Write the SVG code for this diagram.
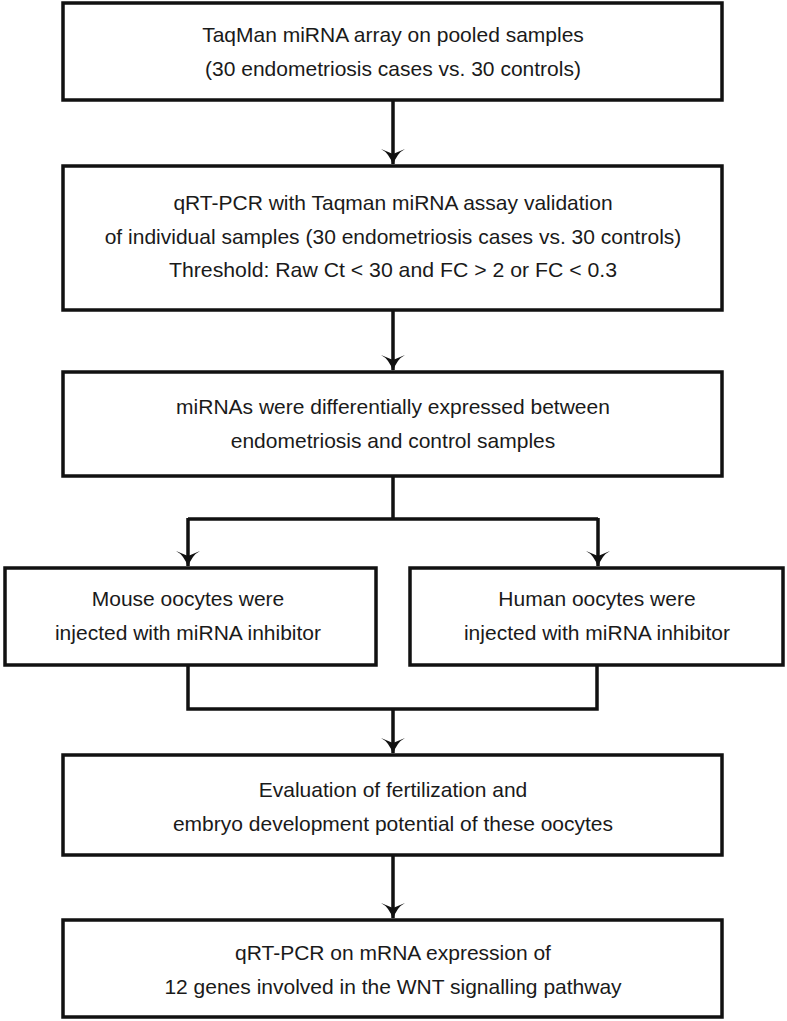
<svg xmlns="http://www.w3.org/2000/svg" width="787" height="1021" viewBox="0 0 787 1021">
<style>
.box{fill:#fff;stroke:#111;stroke-width:3.5}
.ln{fill:none;stroke:#111;stroke-width:3.5}
text{font-family:"Liberation Sans",Arial,sans-serif;font-size:21px;fill:#1a1a1a;text-anchor:middle}
.nar{font-family:"Liberation Sans Narrow","Liberation Sans",sans-serif}
</style>
<defs>
<marker id="ah" viewBox="0 0 22 24" refX="21" refY="12" markerWidth="22" markerHeight="24" markerUnits="userSpaceOnUse" orient="auto">
<path d="M6,0 Q10,8 22,12 Q10,16 6,24 L11,12 Z" fill="#111"/>
</marker>
</defs>
<rect width="787" height="1021" fill="#fff"/>
<g id="connectors">
<path class="ln" d="M393,100 V164" marker-end="url(#ah)"/>
<path class="ln" d="M393,310 V370" marker-end="url(#ah)"/>
<path class="ln" d="M393,476 V519 M188,519 H598"/>
<path class="ln" d="M188,518 V566" marker-end="url(#ah)"/>
<path class="ln" d="M598,518 V566" marker-end="url(#ah)"/>
<path class="ln" d="M188,665 V709 H597 V665"/>
<path class="ln" d="M393,709 V753" marker-end="url(#ah)"/>
<path class="ln" d="M393,855 V918" marker-end="url(#ah)"/>
</g>
<g id="n1">
<rect class="box" x="63" y="3" width="659" height="97"/>
<text x="393" y="42">TaqMan miRNA array on pooled samples</text>
<text x="393" y="76">(30 endometriosis cases vs. 30 controls)</text>
</g>
<g id="n2">
<rect class="box" x="63" y="166" width="659" height="144"/>
<text x="393" y="210">qRT-PCR with Taqman miRNA assay validation</text>
<text x="393" y="244">of individual samples (30 endometriosis cases vs. 30 controls)</text>
<text x="393" y="277" class="nar" textLength="448" lengthAdjust="spacingAndGlyphs">Threshold: Raw Ct &lt; 30 and FC &gt; 2 or FC &lt; 0.3</text>
</g>
<g id="n3">
<rect class="box" x="63" y="372" width="659" height="104"/>
<text x="393" y="414">miRNAs were differentially expressed between</text>
<text x="393" y="448">endometriosis and control samples</text>
</g>
<g id="n4">
<rect class="box" x="5" y="568" width="371" height="97"/>
<text x="188" y="606">Mouse oocytes were</text>
<text x="188" y="640">injected with miRNA inhibitor</text>
</g>
<g id="n5">
<rect class="box" x="410" y="568" width="373" height="97"/>
<text x="597" y="606">Human oocytes were</text>
<text x="597" y="640">injected with miRNA inhibitor</text>
</g>
<g id="n6">
<rect class="box" x="63" y="755" width="659" height="100"/>
<text x="393" y="797">Evaluation of fertilization and</text>
<text x="393" y="831">embryo development potential of these oocytes</text>
</g>
<g id="n7">
<rect class="box" x="63" y="920" width="659" height="97"/>
<text x="393" y="960">qRT-PCR on mRNA expression of</text>
<text x="393" y="994">12 genes involved in the WNT signalling pathway</text>
</g>
</svg>
